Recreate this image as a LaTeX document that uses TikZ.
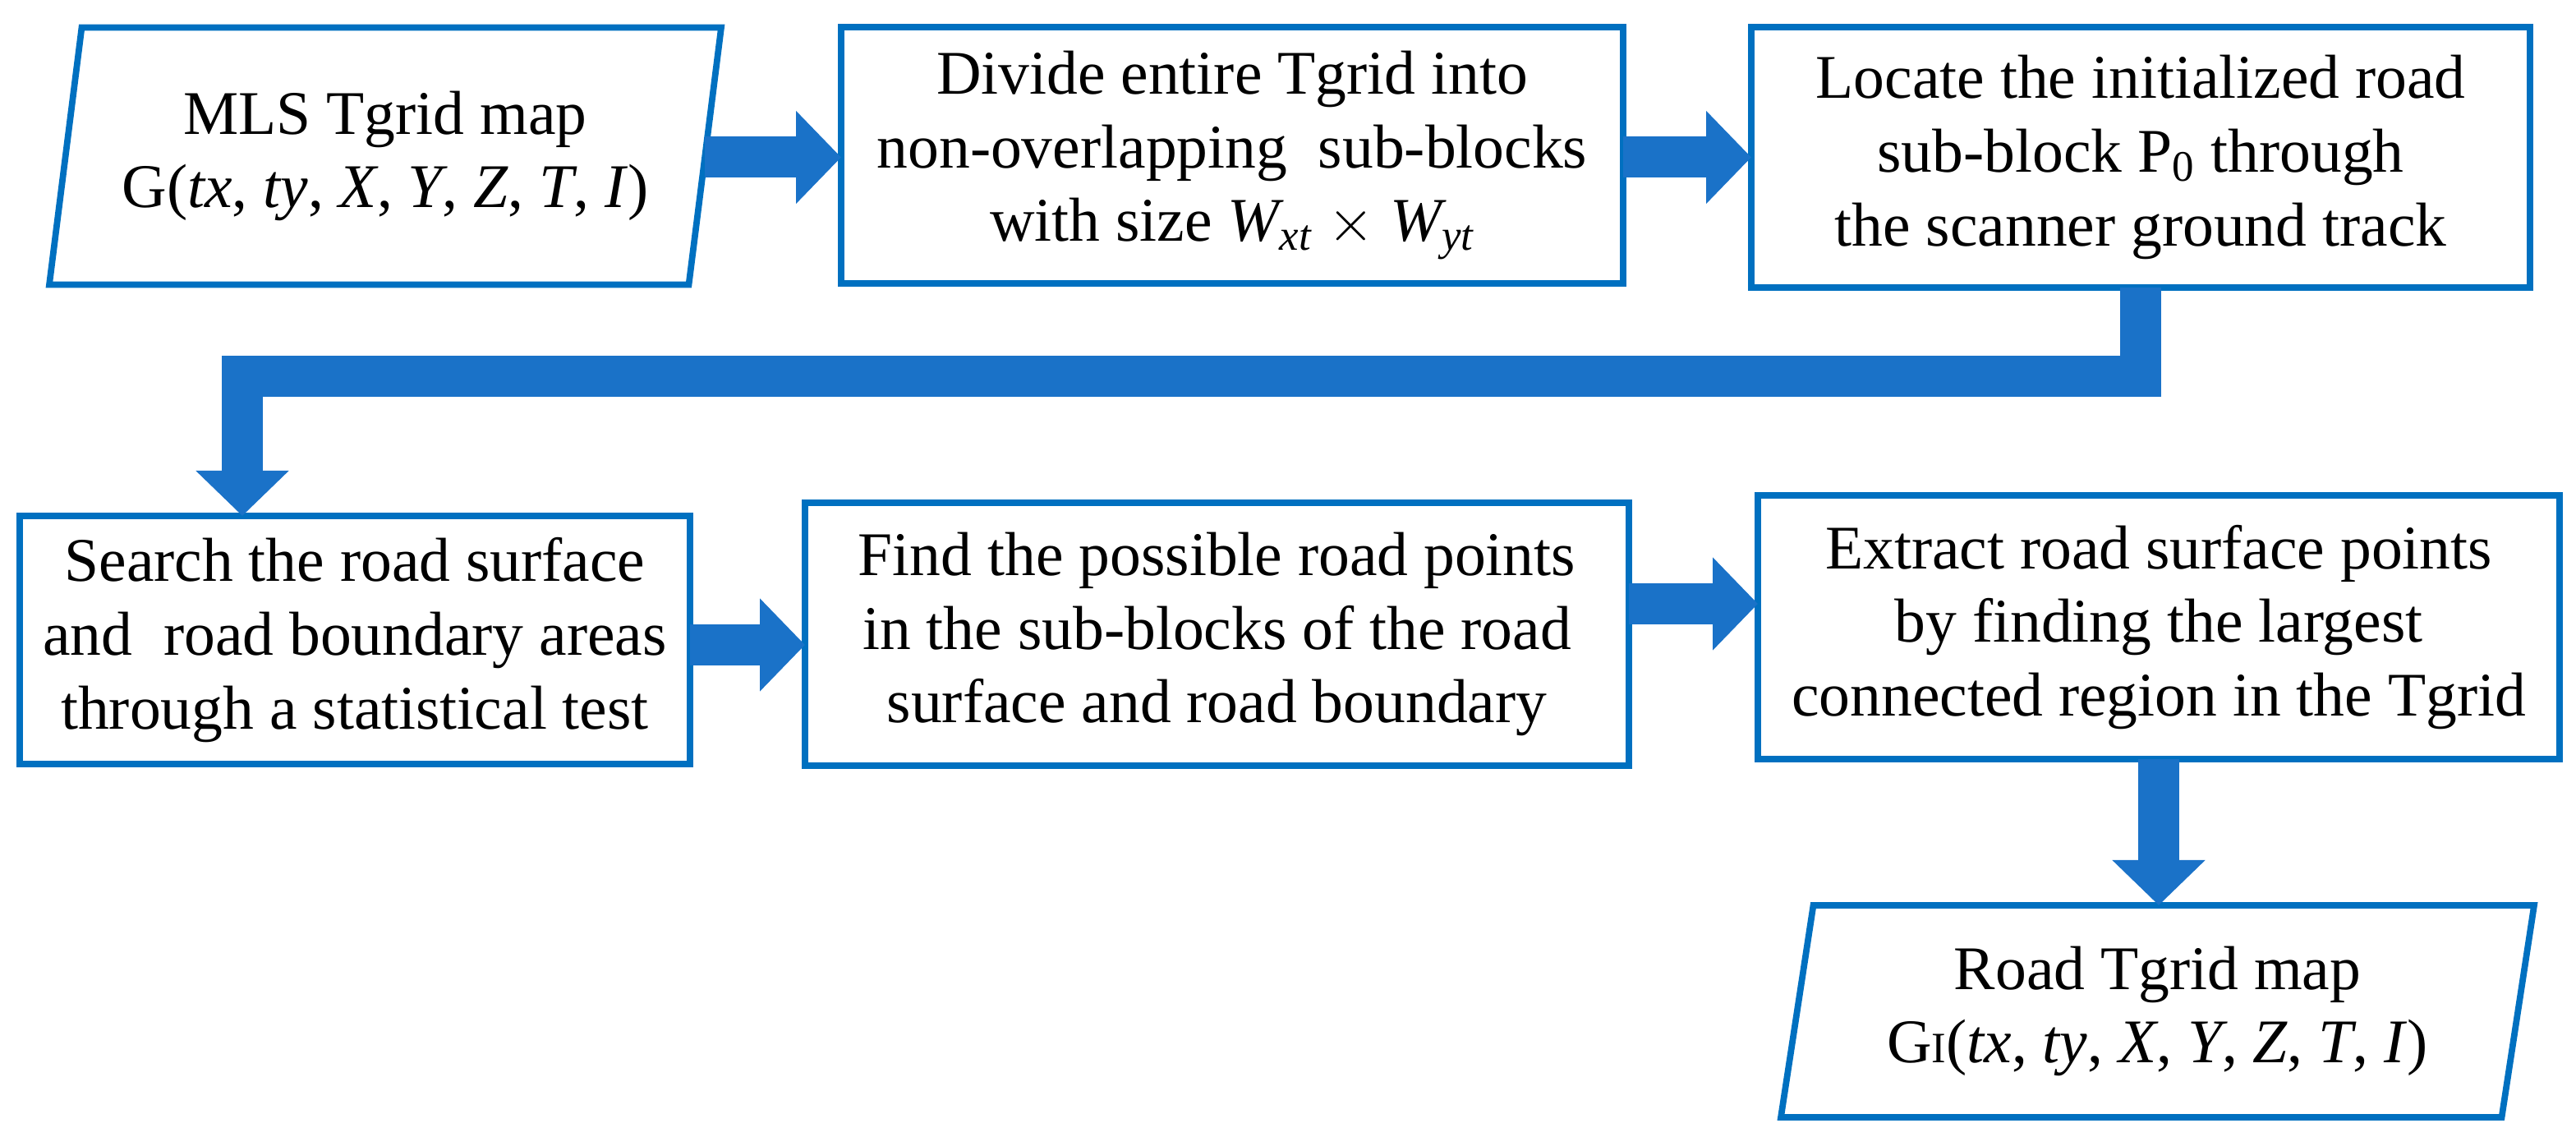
\documentclass[tikz,border=0pt]{standalone}
\usepackage{fontspec}
\setmainfont{Liberation Serif}
\usetikzlibrary{shapes.geometric,arrows.meta,positioning}
\definecolor{boxblue}{RGB}{0,112,192}
\definecolor{arrowblue}{RGB}{26,114,200}
\tikzset{
  block/.style = {rectangle, draw=boxblue, line width=2.2pt, fill=white, align=center, inner sep=0pt, outer sep=0pt, font=\fontsize{21.5}{25.5}\selectfont},
  io/.style = {trapezium, trapezium left angle=76, trapezium right angle=104, trapezium stretches body, draw=boxblue, line width=2.2pt, align=center, inner sep=0pt, outer sep=0pt, font=\fontsize{21.5}{25.5}\selectfont},
  fat/.style = {draw=arrowblue, line width=0.5cm, line join=miter, -{Triangle[width=1.1cm,length=0.55cm]}}
}
\begin{document}
\begin{tikzpicture}
    \useasboundingbox (0,0) rectangle (31.36,-13.84);
    \node [io, minimum width=8.18cm, minimum height=3.13cm] (map) at (4.69,-1.9) {MLS Tgrid map\\G(\textit{tx}, \textit{ty}, \textit{X}, \textit{Y}, \textit{Z}, \textit{T}, \textit{I})};
    \node [block, minimum width=9.52cm, minimum height=3.12cm] (divide) at (15.0,-1.89) {Divide entire Tgrid into\\non-overlapping\ \ sub-blocks\\with size \textit{W\textsubscript{xt}} $\times$ \textit{W\textsubscript{yt}}};
    \node [block, minimum width=9.48cm, minimum height=3.17cm] (locate) at (26.06,-1.915) {Locate the initialized road\\sub-block P\textsubscript{0} through\\the scanner ground track};
    \node [block, minimum width=8.16cm, minimum height=3.02cm] (search) at (4.32,-7.79) {Search the road surface\\and\ \ road boundary areas\\through a statistical test};
    \node [block, minimum width=10.03cm, minimum height=3.2cm] (find) at (14.815,-7.72) {Find the possible road points\\in the sub-blocks of the road\\surface and road boundary};
    \node [block, minimum width=9.76cm, minimum height=3.21cm] (extract) at (26.28,-7.635) {Extract road surface points\\by finding the largest\\connected region in the Tgrid};
    \node [io, minimum width=9.17cm, minimum height=2.58cm] (road) at (26.265,-12.31) {Road Tgrid map\\G{\fontsize{15}{15}\selectfont I}(\textit{tx}, \textit{ty}, \textit{X}, \textit{Y}, \textit{Z}, \textit{T}, \textit{I})};
    \coordinate (turn) at (2.95,-4.58);
    \draw [fat] (map.east |- 0,-1.915) -- (divide.west |- 0,-1.915);
    \draw [fat] (divide.east |- 0,-1.915) -- (locate.west |- 0,-1.915);
    \draw [fat] (locate.south) |- (turn) -- (turn |- search.north);
    \draw [fat] (search.east |- 0,-7.85) -- (find.west |- 0,-7.85);
    \draw [fat] (find.east |- 0,-7.35) -- (extract.west |- 0,-7.35);
    \draw [fat] (extract.south) -- (extract.south |- road.north);
\end{tikzpicture}
\end{document}
